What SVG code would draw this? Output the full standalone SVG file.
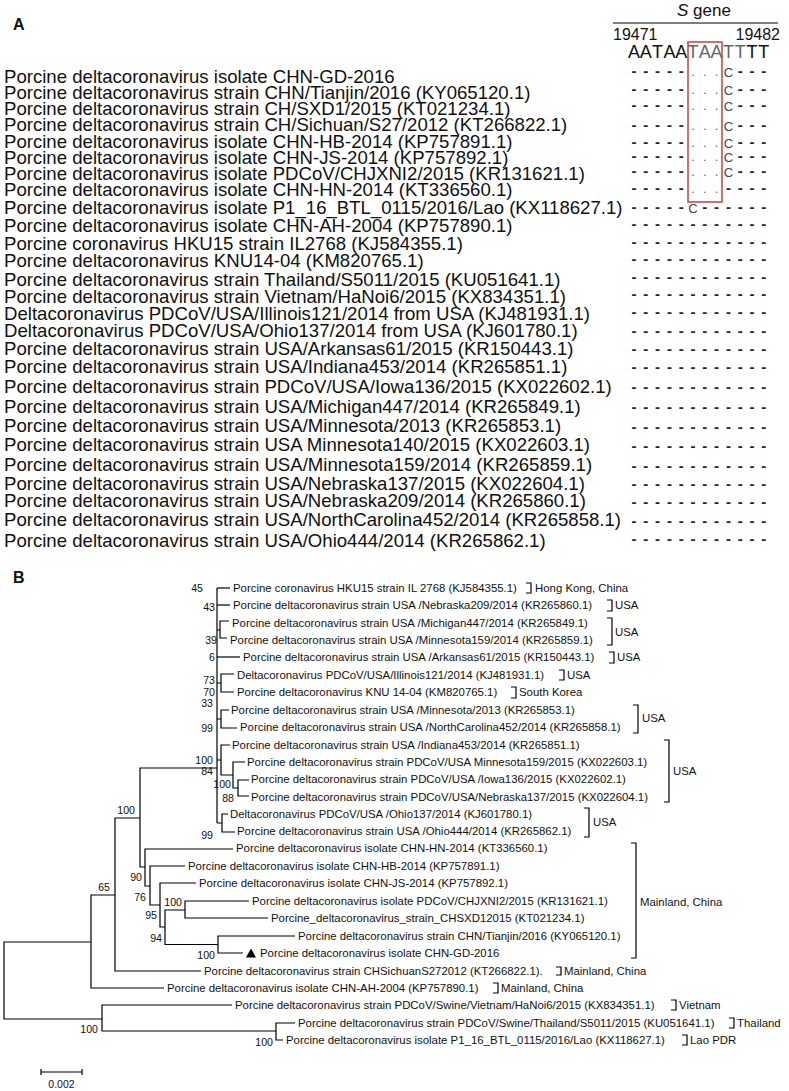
<svg xmlns="http://www.w3.org/2000/svg" width="789" height="1091" viewBox="0 0 789 1091">
<style>
text{font-family:"Liberation Sans",Arial,sans-serif;fill:#111}
.lab{font-size:18.6px}
.hd{font-size:16px}
.nt{font-size:18px;text-anchor:middle}
.d{font-size:15px;font-weight:bold;text-anchor:middle;fill:#222}
.dot{font-size:13px;text-anchor:middle;fill:#666}
.c{font-size:13px;text-anchor:middle;fill:#444}
.t{font-size:11.4px}
.bs{font-size:10.6px;text-anchor:end}
.edge{fill:none;stroke:#000;stroke-width:1.2}
.br{fill:none;stroke:#000;stroke-width:1.2}
</style>
<rect width="789" height="1091" fill="#fff"/>
<!-- Panel A -->
<text x="13" y="30" style="font-size:16px;font-weight:bold">A</text>
<g id="header">
<text x="677" y="16" style="font-size:17px"><tspan font-style="italic">S</tspan> gene</text>
<line x1="613" y1="23" x2="778" y2="23" stroke="#000" stroke-width="1.2"/>
<text class="hd" x="613" y="40">19471</text>
<text class="hd" x="780" y="40" text-anchor="end">19482</text>
<text class="nt" x="634 645.8 657.6 669.4 681.2" y="58">AATAA</text>
<text class="nt" x="693 704.8 716.6" y="58" style="fill:#666">TAA</text>
<text class="nt" x="728.4 740.2" y="58" style="fill:#666">TT</text>
<text class="nt" x="752 763.8" y="58">TT</text>
<rect x="688" y="42" width="34" height="160" fill="none" stroke="#d23b3b" stroke-width="1.5"/>
</g>
<g id="alignment">
<g id="a1"><text class="lab" x="4" y="83">Porcine deltacoronavirus isolate CHN-GD-2016</text><text class="d" x="634 645.8 657.6 669.4 681.2" y="76">-----</text><text class="dot" x="693 704.8 716.6" y="76">...</text><text class="c" x="728.4" y="77">C</text><text class="d" x="740.2 752 763.8" y="76">---</text></g>
<g id="a2"><text class="lab" x="4" y="99">Porcine deltacoronavirus strain CHN/Tianjin/2016 (KY065120.1)</text><text class="d" x="634 645.8 657.6 669.4 681.2" y="94">-----</text><text class="dot" x="693 704.8 716.6" y="94">...</text><text class="c" x="728.4" y="95">C</text><text class="d" x="740.2 752 763.8" y="94">---</text></g>
<g id="a3"><text class="lab" x="4" y="115">Porcine deltacoronavirus strain CH/SXD1/2015 (KT021234.1)</text><text class="d" x="634 645.8 657.6 669.4 681.2" y="110">-----</text><text class="dot" x="693 704.8 716.6" y="110">...</text><text class="c" x="728.4" y="111">C</text><text class="d" x="740.2 752 763.8" y="110">---</text></g>
<g id="a4"><text class="lab" x="4" y="131">Porcine deltacoronavirus strain CH/Sichuan/S27/2012 (KT266822.1)</text><text class="d" x="634 645.8 657.6 669.4 681.2" y="130">-----</text><text class="dot" x="693 704.8 716.6" y="130">...</text><text class="c" x="728.4" y="131">C</text><text class="d" x="740.2 752 763.8" y="130">---</text></g>
<g id="a5"><text class="lab" x="4" y="148">Porcine deltacoronavirus isolate CHN-HB-2014 (KP757891.1)</text><text class="d" x="634 645.8 657.6 669.4 681.2" y="147">-----</text><text class="dot" x="693 704.8 716.6" y="147">...</text><text class="c" x="728.4" y="148">C</text><text class="d" x="740.2 752 763.8" y="147">---</text></g>
<g id="a6"><text class="lab" x="4" y="164">Porcine deltacoronavirus isolate CHN-JS-2014 (KP757892.1)</text><text class="d" x="634 645.8 657.6 669.4 681.2" y="161">-----</text><text class="dot" x="693 704.8 716.6" y="161">...</text><text class="c" x="728.4" y="162">C</text><text class="d" x="740.2 752 763.8" y="161">---</text></g>
<g id="a7"><text class="lab" x="4" y="180">Porcine deltacoronavirus isolate PDCoV/CHJXNI2/2015 (KR131621.1)</text><text class="d" x="634 645.8 657.6 669.4 681.2" y="176">-----</text><text class="dot" x="693 704.8 716.6" y="176">...</text><text class="c" x="728.4" y="177">C</text><text class="d" x="740.2 752 763.8" y="176">---</text></g>
<g id="a8"><text class="lab" x="4" y="196">Porcine deltacoronavirus isolate CHN-HN-2014 (KT336560.1)</text><text class="d" x="634 645.8 657.6 669.4 681.2" y="193">-----</text><text class="dot" x="693 704.8 716.6" y="193">...</text><text class="d" x="728.4 740.2 752 763.8" y="193">----</text></g>
<g id="a9"><text class="lab" x="4" y="214">Porcine deltacoronavirus isolate P1_16_BTL_0115/2016/Lao (KX118627.1)</text><text class="d" x="634 645.8 657.6 669.4 681.2" y="212">-----</text><text class="c" x="693" y="213">C</text><text class="d" x="704.8 716.6 728.4 740.2 752 763.8" y="212">------</text></g>
<g id="a10"><text class="lab" x="4" y="232">Porcine deltacoronavirus isolate CHN-AH-2004 (KP757890.1)</text><text class="d" x="634 645.8 657.6 669.4 681.2 693 704.8 716.6 728.4 740.2 752 763.8" y="229">------------</text></g>
<g id="a11"><text class="lab" x="4" y="250">Porcine coronavirus HKU15 strain IL2768 (KJ584355.1)</text><text class="d" x="634 645.8 657.6 669.4 681.2 693 704.8 716.6 728.4 740.2 752 763.8" y="247">------------</text></g>
<g id="a12"><text class="lab" x="4" y="267">Porcine deltacoronavirus KNU14-04 (KM820765.1)</text><text class="d" x="634 645.8 657.6 669.4 681.2 693 704.8 716.6 728.4 740.2 752 763.8" y="264">------------</text></g>
<g id="a13"><text class="lab" x="4" y="286">Porcine deltacoronavirus strain Thailand/S5011/2015 (KU051641.1)</text><text class="d" x="634 645.8 657.6 669.4 681.2 693 704.8 716.6 728.4 740.2 752 763.8" y="282">------------</text></g>
<g id="a14"><text class="lab" x="4" y="303">Porcine deltacoronavirus strain Vietnam/HaNoi6/2015 (KX834351.1)</text><text class="d" x="634 645.8 657.6 669.4 681.2 693 704.8 716.6 728.4 740.2 752 763.8" y="299">------------</text></g>
<g id="a15"><text class="lab" x="4" y="320">Deltacoronavirus PDCoV/USA/Illinois121/2014 from USA (KJ481931.1)</text><text class="d" x="634 645.8 657.6 669.4 681.2 693 704.8 716.6 728.4 740.2 752 763.8" y="317">------------</text></g>
<g id="a16"><text class="lab" x="4" y="337">Deltacoronavirus PDCoV/USA/Ohio137/2014 from USA (KJ601780.1)</text><text class="d" x="634 645.8 657.6 669.4 681.2 693 704.8 716.6 728.4 740.2 752 763.8" y="336">------------</text></g>
<g id="a17"><text class="lab" x="4" y="355">Porcine deltacoronavirus strain USA/Arkansas61/2015 (KR150443.1)</text><text class="d" x="634 645.8 657.6 669.4 681.2 693 704.8 716.6 728.4 740.2 752 763.8" y="354">------------</text></g>
<g id="a18"><text class="lab" x="4" y="373">Porcine deltacoronavirus strain USA/Indiana453/2014 (KR265851.1)</text><text class="d" x="634 645.8 657.6 669.4 681.2 693 704.8 716.6 728.4 740.2 752 763.8" y="372">------------</text></g>
<g id="a19"><text class="lab" x="4" y="393">Porcine deltacoronavirus strain PDCoV/USA/Iowa136/2015 (KX022602.1)</text><text class="d" x="634 645.8 657.6 669.4 681.2 693 704.8 716.6 728.4 740.2 752 763.8" y="392">------------</text></g>
<g id="a20"><text class="lab" x="4" y="413">Porcine deltacoronavirus strain USA/Michigan447/2014 (KR265849.1)</text><text class="d" x="634 645.8 657.6 669.4 681.2 693 704.8 716.6 728.4 740.2 752 763.8" y="412">------------</text></g>
<g id="a21"><text class="lab" x="4" y="432">Porcine deltacoronavirus strain USA/Minnesota/2013 (KR265853.1)</text><text class="d" x="634 645.8 657.6 669.4 681.2 693 704.8 716.6 728.4 740.2 752 763.8" y="432">------------</text></g>
<g id="a22"><text class="lab" x="4" y="451">Porcine deltacoronavirus strain USA Minnesota140/2015 (KX022603.1)</text><text class="d" x="634 645.8 657.6 669.4 681.2 693 704.8 716.6 728.4 740.2 752 763.8" y="451">------------</text></g>
<g id="a23"><text class="lab" x="4" y="471">Porcine deltacoronavirus strain USA/Minnesota159/2014 (KR265859.1)</text><text class="d" x="634 645.8 657.6 669.4 681.2 693 704.8 716.6 728.4 740.2 752 763.8" y="471">------------</text></g>
<g id="a24"><text class="lab" x="4" y="490">Porcine deltacoronavirus strain USA/Nebraska137/2015 (KX022604.1)</text><text class="d" x="634 645.8 657.6 669.4 681.2 693 704.8 716.6 728.4 740.2 752 763.8" y="489">------------</text></g>
<g id="a25"><text class="lab" x="4" y="507">Porcine deltacoronavirus strain USA/Nebraska209/2014 (KR265860.1)</text><text class="d" x="634 645.8 657.6 669.4 681.2 693 704.8 716.6 728.4 740.2 752 763.8" y="507">------------</text></g>
<g id="a26"><text class="lab" x="4" y="526">Porcine deltacoronavirus strain USA/NorthCarolina452/2014 (KR265858.1)</text><text class="d" x="634 645.8 657.6 669.4 681.2 693 704.8 716.6 728.4 740.2 752 763.8" y="526">------------</text></g>
<g id="a27"><text class="lab" x="4" y="547">Porcine deltacoronavirus strain USA/Ohio444/2014 (KR265862.1)</text><text class="d" x="634 645.8 657.6 669.4 681.2 693 704.8 716.6 728.4 740.2 752 763.8" y="544">------------</text></g>
</g>
<!-- Panel B -->
<text x="13" y="583" style="font-size:16px;font-weight:bold">B</text>
<g id="connectors" class="edge">
<path d="M91,942 H4 V1019 H102"/>
<path d="M115,895 H91 V988 H164"/>
<path d="M140,818 H115 V971 H201"/>
<path d="M217,768 H140 V867 H145"/>
<path d="M233,849 H145 V886 H150"/>
<path d="M185,866 H150 V905 H160"/>
<path d="M196,883 H160 V927 H165"/>
<path d="M185,910 H165 V944.5 H218"/>
<path d="M249,901 H185 V918 H268"/>
<path d="M295,936 H218 V953 H243"/>
<path d="M232,1005 H102 V1031 H276"/>
<path d="M295,1023 H276 V1040 H283"/>
<path d="M217,588 V823"/>
<path d="M230,588 H217"/>
<path d="M230,605 H217"/>
<path d="M229,621 H220 V638 H227 M217,630 H220"/>
<path d="M240,657 H217"/>
<path d="M234,674 H221 V692 H234 M217,683 H221"/>
<path d="M229,710 H221 V728 H237 M217,719 H221"/>
<path d="M230,745 H221 V775 H233 M217,760 H221"/>
<path d="M245,762 H233 V788 H238"/>
<path d="M249,780 H238 V796 H249"/>
<path d="M228,814 H222 V832 H235 M217,823 H222"/>
</g>
<g id="bootstrap">
<text class="bs" x="203" y="592">45</text>
<text class="bs" x="215" y="611">43</text>
<text class="bs" x="217" y="644">39</text>
<text class="bs" x="215" y="661">6</text>
<text class="bs" x="215" y="684">73</text>
<text class="bs" x="215" y="696">70</text>
<text class="bs" x="213" y="707">33</text>
<text class="bs" x="213" y="732">99</text>
<text class="bs" x="213" y="764">100</text>
<text class="bs" x="213" y="775">84</text>
<text class="bs" x="231" y="788">100</text>
<text class="bs" x="234" y="802">88</text>
<text class="bs" x="213" y="839">99</text>
<text class="bs" x="142" y="881">90</text>
<text class="bs" x="146" y="901">76</text>
<text class="bs" x="157" y="919">95</text>
<text class="bs" x="182" y="906">100</text>
<text class="bs" x="162" y="942">94</text>
<text class="bs" x="215" y="959">100</text>
<text class="bs" x="110" y="891">65</text>
<text class="bs" x="135" y="814">100</text>
<text class="bs" x="98" y="1033">100</text>
<text class="bs" x="273" y="1046">100</text>
</g>
<g id="taxa" class="t">
<g id="t1"><text class="t" x="233" y="592">Porcine coronavirus HKU15 strain IL 2768 (KJ584355.1)</text><path class="br" d="M526,583 H531 V593 H526"/><text class="t" x="535" y="592">Hong Kong, China</text></g>
<g id="t2"><text class="t" x="233" y="609">Porcine deltacoronavirus strain USA /Nebraska209/2014 (KR265860.1)</text><path class="br" d="M607,600 H612 V611 H607"/><text class="t" x="615" y="609">USA</text></g>
<g id="t3"><text class="t" x="232" y="627">Porcine deltacoronavirus strain USA /Michigan447/2014 (KR265849.1)</text></g>
<g id="t4"><text class="t" x="230" y="644">Porcine deltacoronavirus strain USA /Minnesota159/2014 (KR265859.1)</text><path class="br" d="M607,618 H612 V645 H607"/><text class="t" x="615" y="636">USA</text></g>
<g id="t5"><text class="t" x="243" y="661">Porcine deltacoronavirus strain USA /Arkansas61/2015 (KR150443.1)</text><path class="br" d="M609,652 H614 V663 H609"/><text class="t" x="617" y="661">USA</text></g>
<g id="t6"><text class="t" x="237" y="679">Deltacoronavirus PDCoV/USA/Illinois121/2014 (KJ481931.1)</text><path class="br" d="M559,670 H564 V680 H559"/><text class="t" x="567" y="679">USA</text></g>
<g id="t7"><text class="t" x="237" y="696">Porcine deltacoronavirus KNU 14-04 (KM820765.1)</text><path class="br" d="M511,687 H516 V698 H511"/><text class="t" x="519" y="696">South Korea</text></g>
<g id="t8"><text class="t" x="231" y="714">Porcine deltacoronavirus strain USA /Minnesota/2013 (KR265853.1)</text></g>
<g id="t9"><text class="t" x="240" y="731">Porcine deltacoronavirus strain USA /NorthCarolina452/2014 (KR265858.1)</text><path class="br" d="M633,705 H638 V733 H633"/><text class="t" x="642" y="722">USA</text></g>
<g id="t10"><text class="t" x="232" y="749">Porcine deltacoronavirus strain USA /Indiana453/2014 (KR265851.1)</text></g>
<g id="t11"><text class="t" x="247" y="766">Porcine deltacoronavirus strain PDCoV/USA Minnesota159/2015 (KX022603.1)</text></g>
<g id="t12"><text class="t" x="251" y="783">Porcine deltacoronavirus strain PDCoV/USA /Iowa136/2015 (KX022602.1)</text></g>
<g id="t13"><text class="t" x="251" y="801">Porcine deltacoronavirus strain PDCoV/USA/Nebraska137/2015 (KX022604.1)</text><path class="br" d="M664,740 H669 V802 H664"/><text class="t" x="673" y="775">USA</text></g>
<g id="t14"><text class="t" x="230" y="818">Deltacoronavirus PDCoV/USA /Ohio137/2014 (KJ601780.1)</text></g>
<g id="t15"><text class="t" x="237" y="835">Porcine deltacoronavirus strain USA /Ohio444/2014 (KR265862.1)</text><path class="br" d="M584,808 H589 V837 H584"/><text class="t" x="593" y="826">USA</text></g>
<g id="t16"><text class="t" x="236" y="852">Porcine deltacoronavirus isolate CHN-HN-2014 (KT336560.1)</text></g>
<g id="t17"><text class="t" x="188" y="870">Porcine deltacoronavirus isolate CHN-HB-2014 (KP757891.1)</text></g>
<g id="t18"><text class="t" x="199" y="887">Porcine deltacoronavirus isolate CHN-JS-2014 (KP757892.1)</text></g>
<g id="t19"><text class="t" x="252" y="905">Porcine deltacoronavirus isolate PDCoV/CHJXNI2/2015 (KR131621.1)</text></g>
<g id="t20"><text class="t" x="271" y="922">Porcine_deltacoronavirus_strain_CHSXD12015 (KT021234.1)</text></g>
<g id="t21"><text class="t" x="298" y="940">Porcine deltacoronavirus strain CHN/Tianjin/2016 (KY065120.1)</text></g>
<g id="t22"><polygon points="246,957.5 256,957.5 251,948.5" fill="#000"/><text class="t" x="260" y="957">Porcine deltacoronavirus isolate CHN-GD-2016</text><path class="br" d="M631,843 H636 V958 H631"/><text class="t" x="640" y="906">Mainland, China</text></g>
<g id="t23"><text class="t" x="204" y="975">Porcine deltacoronavirus strain CHSichuanS272012 (KT266822.1).</text><path class="br" d="M556,967 H561 V975 H556"/><text class="t" x="564" y="975">Mainland, China</text></g>
<g id="t24"><text class="t" x="167" y="992">Porcine deltacoronavirus isolate CHN-AH-2004 (KP757890.1)</text><path class="br" d="M493,983 H498 V993 H493"/><text class="t" x="501" y="992">Mainland, China</text></g>
<g id="t25"><text class="t" x="235" y="1009">Porcine deltacoronavirus strain PDCoV/Swine/Vietnam/HaNoi6/2015 (KX834351.1)</text><path class="br" d="M671,1000 H676 V1010 H671"/><text class="t" x="679" y="1009">Vietnam</text></g>
<g id="t26"><text class="t" x="298" y="1027">Porcine deltacoronavirus strain PDCoV/Swine/Thailand/S5011/2015 (KU051641.1)</text><path class="br" d="M729,1018 H734 V1028 H729"/><text class="t" x="737" y="1027">Thailand</text></g>
<g id="t27"><text class="t" x="286" y="1044">Porcine deltacoronavirus isolate P1_16_BTL_0115/2016/Lao (KX118627.1)</text><path class="br" d="M682,1035 H687 V1045 H682"/><text class="t" x="690" y="1044">Lao PDR</text></g>
</g>
<g id="scalebar">
<path class="edge" d="M41,1072 H82 M41,1069 V1075 M82,1069 V1075"/>
<text x="61.5" y="1088" style="font-size:10.5px;text-anchor:middle">0.002</text>
</g>
</svg>
